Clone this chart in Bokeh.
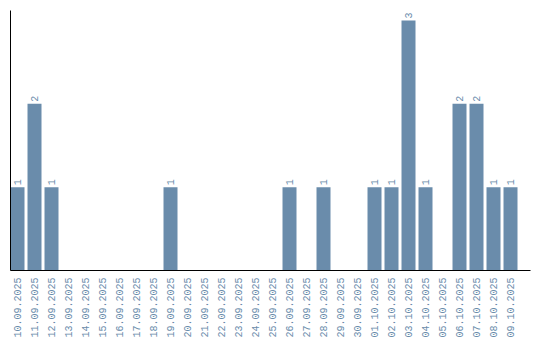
import math
from bokeh.plotting import figure
from bokeh.models import ColumnDataSource, Range1d, FixedTicker
from bokeh.core.properties import value
from bokeh.embed import file_html
from bokeh.resources import INLINE

dates = ["10.09.2025", "11.09.2025", "12.09.2025", "13.09.2025", "14.09.2025",
         "15.09.2025", "16.09.2025", "17.09.2025", "18.09.2025", "19.09.2025",
         "20.09.2025", "21.09.2025", "22.09.2025", "23.09.2025", "24.09.2025",
         "25.09.2025", "26.09.2025", "27.09.2025", "28.09.2025", "29.09.2025",
         "30.09.2025", "01.10.2025", "02.10.2025", "03.10.2025", "04.10.2025",
         "05.10.2025", "06.10.2025", "07.10.2025", "08.10.2025", "09.10.2025"]
counts = [1, 2, 1, 0, 0, 0, 0, 0, 0, 1,
          0, 0, 0, 0, 0, 0, 1, 0, 1, 0,
          0, 1, 1, 3, 1, 0, 2, 2, 1, 1]

BAR = "#6a8cab"
TXT = "#6a8cab"
FONT = "Liberation Mono"

xs = [i + 0.5 for i in range(len(dates))]
src = ColumnDataSource(dict(x=xs, top=counts))
lab_x = [x for x, c in zip(xs, counts) if c > 0]
lab_y = [c for c in counts if c > 0]
lab_t = [str(c) for c in counts if c > 0]
lsrc = ColumnDataSource(dict(x=lab_x, y=lab_y, t=lab_t))

p = figure(width=540, height=340, output_backend="svg", toolbar_location=None,
           x_range=Range1d(0.088, 0.088 + 520 / 17), y_range=Range1d(0, 3.12),
           min_border_left=10, min_border_right=10, min_border_top=10, min_border_bottom=70)
p.outline_line_color = None
p.grid.visible = False
p.background_fill_color = "white"
p.border_fill_color = "white"

p.vbar(x="x", top="top", bottom=0, width=14 / 17, source=src, fill_color=BAR, line_color=None)
p.text(x="x", y="y", text="t", source=lsrc, angle=math.pi / 2, text_align="left",
       text_baseline="middle", y_offset=-2, text_color=TXT,
       text_font=value(FONT), text_font_size="10px")

xa = p.xaxis[0]
xa.ticker = FixedTicker(ticks=xs)
xa.major_label_overrides = {x: d for x, d in zip(xs, dates)}
xa.major_label_orientation = math.pi / 2
xa.major_tick_out = 0
xa.major_tick_in = 0
xa.minor_tick_out = 0
xa.minor_tick_in = 0
xa.major_label_standoff = 7
xa.major_label_text_font = FONT
xa.major_label_text_font_size = "10px"
xa.major_label_text_color = TXT
xa.axis_line_color = "black"
xa.axis_line_width = 1

ya = p.yaxis[0]
ya.ticker = FixedTicker(ticks=[])
ya.major_tick_out = 0
ya.major_tick_in = 0
ya.minor_tick_out = 0
ya.minor_tick_in = 0
ya.major_label_text_font_size = "0px"
ya.major_label_standoff = 0
ya.axis_line_color = "black"
ya.axis_line_width = 1

open("out.html", "w").write(file_html(p, INLINE))
